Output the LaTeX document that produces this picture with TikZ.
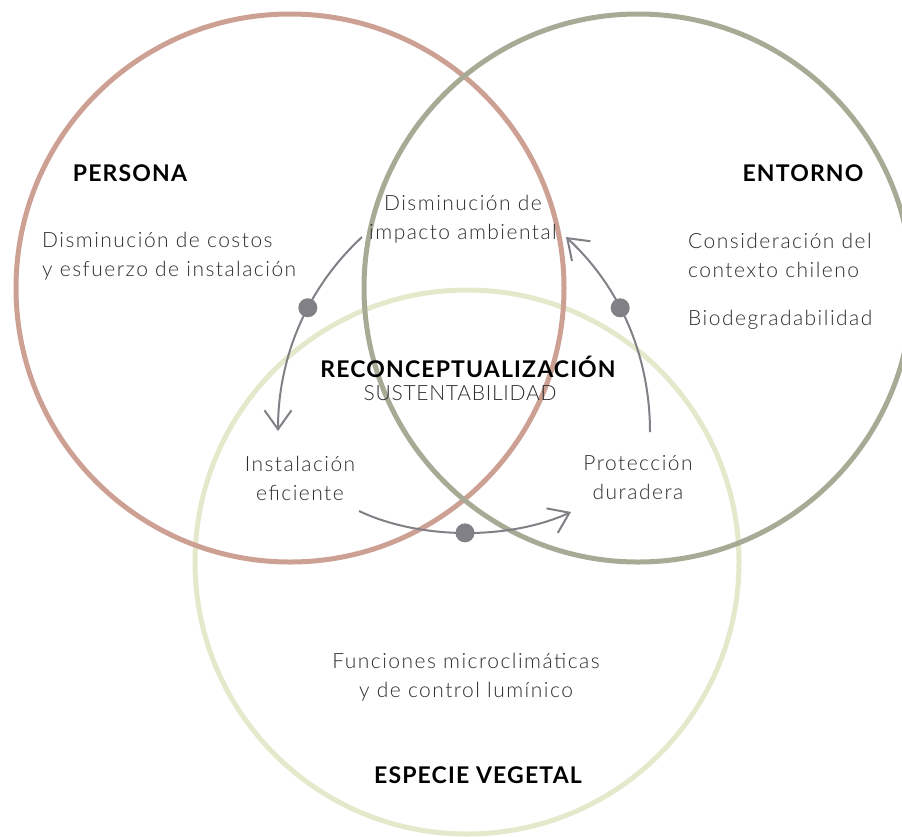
\documentclass[tikz,border=0pt]{standalone}
\usepackage{fontspec}
\setmainfont{Lato}[UprightFont=* Light, BoldFont=* Bold]
\usetikzlibrary{arrows.meta}
\definecolor{persona}{RGB}{205,160,148}
\definecolor{entorno}{RGB}{168,170,150}
\definecolor{especie}{RGB}{229,233,204}
\definecolor{flecha}{RGB}{128,128,134}
\definecolor{texto}{RGB}{45,45,45}

\newfontfamily\bodyfont{Lato}[UprightFont=* Light, LetterSpace=7]
\newfontfamily\capsfont{Lato}[UprightFont=* Light, LetterSpace=3.5]
\newfontfamily\headfont{Lato}[UprightFont=* Bold, LetterSpace=5]

\begin{document}
\begin{tikzpicture}[x=1pt,y=-1pt,
  ring/.style={line width=5pt},
  body/.style={font=\bodyfont\fontsize{21}{29}\selectfont, text=texto, inner sep=0pt},
  title/.style={font=\headfont\fontsize{23}{26}\selectfont, text=black, inner sep=0pt},
  flow/.style={draw=flecha, line width=2pt, -{Straight Barb[length=19pt,width=27pt]}},
  dot/.style={circle, fill=flecha, minimum size=19pt, inner sep=0pt},
]
\useasboundingbox (0,0) rectangle (902,836);

% the three overlapping circles
\begin{scope}
  \clip (0,0) rectangle (902,836);
  \draw[ring, especie] (467,562) circle[radius=272pt];
  \draw[ring, persona] (290,288) circle[radius=274pt];
  \draw[ring, entorno] (638,288) circle[radius=274pt];
\end{scope}

% headings
\node[title] (persona) at (130,173) {PERSONA};
\node[title] (entorno) at (803,173) {ENTORNO};
\node[title] (especie) at (478,775) {ESPECIE VEGETAL};
\node[title] (reconc) at (468,367) {RECONCEPTUALIZACIÓN};
\node[body, font=\capsfont\fontsize{21}{29}\selectfont] (sust) at (460,393) {SUSTENTABILIDAD};

% texts
\node[body, anchor=west, align=left] (costos) at (42,256) {Disminución de costos\\y esfuerzo de instalación};
\node[body, align=center] (impacto) at (463,219) {Disminución de\\impacto ambiental};
\node[body, anchor=west, align=left] (contexto) at (688,255) {Consideración del\\contexto chileno};
\node[body, anchor=west] (bio) at (688,320) {Biodegradabilidad};
\node[body, align=center] (instal) at (300,478) {Instalación\\eficiente};
\node[body, align=center] (protec) at (638,478) {Protección\\duradera};
\node[body, align=center] (funciones) at (466,677) {Funciones microclimáticas\\y de control lumínico};

% cycle arrows
\coordinate (a1) at (362,237);
\coordinate (a2) at (278,431);
\coordinate (b1) at (359,511);
\coordinate (b2) at (571,512);
\coordinate (c1) at (650,432);
\coordinate (c2) at (566,237);

\draw[flow] (a1) .. controls (305,290) and (278,360) .. (a2) node[dot, pos=0.4] (d1) {};
\draw[flow] (b1) .. controls (420,540) and (510,540) .. (b2) node[dot, pos=0.5] (d2) {};
\draw[flow] (c1) .. controls (650,360) and (623,290) .. (c2) node[dot, pos=0.6] (d3) {};
\end{tikzpicture}
\end{document}
